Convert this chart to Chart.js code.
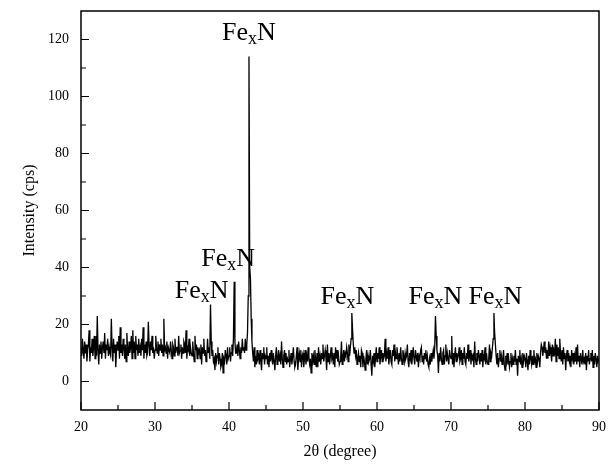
<!DOCTYPE html>
<html>
<head>
<meta charset="utf-8">
<script src="https://cdn.jsdelivr.net/npm/chart.js@4.4.0/dist/chart.umd.min.js"></script>
<style>
  html, body { margin:0; padding:0; background:#fff; }
  #wrap { width:616px; height:466px; }
</style>
</head>
<body>
<div id="wrap"><canvas id="xrd" width="616" height="466"></canvas></div>
<script>
// ================================
// XRD pattern
// ================================
const twoThetaStart = 20;
const twoThetaStep = 0.1;

// intensity (cps), one line per degree (10 points each), 20.0 .. 90.0
const intensity = [
  12, 9, 15, 11, 8, 14, 10, 13, 7, 11,      // 20
  13, 18, 7, 12, 10, 15, 9, 12, 16, 8,      // 21
  16, 9, 23, 11, 6, 13, 10, 14, 8, 12,      // 22
  14, 10, 17, 8, 13, 11, 15, 9, 12, 10,     // 23
  9, 22, 12, 7, 15, 10, 13, 5, 11, 14,      // 24
  11, 16, 8, 19, 10, 13, 9, 15, 12, 8,      // 25
  13, 7, 17, 11, 9, 14, 10, 12, 16, 8,      // 26
  18, 10, 14, 8, 16, 11, 13, 9, 15, 10,     // 27
  12, 9, 15, 11, 19, 8, 13, 10, 14, 9,      // 28
  10, 21, 13, 9, 14, 11, 16, 10, 12, 8,     // 29
  11, 16, 12, 10, 14, 9, 13, 11, 15, 10,    // 30
  13, 9, 22, 11, 12, 10, 14, 8, 12, 11,     // 31
  10, 14, 11, 8, 13, 12, 9, 15, 10, 12,     // 32
  12, 9, 16, 10, 11, 13, 8, 12, 10, 14,     // 33
  13, 10, 18, 8, 12, 11, 15, 9, 12, 10,     // 34
  9, 14, 10, 7, 16, 11, 13, 8, 12, 10,      // 35
  11, 8, 13, 6, 12, 10, 15, 9, 11, 7,       // 36
  9, 15, 10, 12, 8, 27, 14, 9, 11, 7,       // 37
  8, 4, 10, 7, 9, 12, 6, 10, 8, 5,          // 38
  6, 10, 3, 8, 7, 11, 9, 6, 12, 8,          // 39
  9, 12, 7, 10, 13, 9, 15, 35, 14, 10,      // 40
  10, 13, 9, 14, 11, 8, 12, 10, 15, 11,     // 41
  12, 10, 15, 11, 13, 17, 30, 114, 40, 36,  // 42
  22, 14, 10, 7, 12, 5, 9, 6, 11, 8,        // 43
  9, 6, 11, 7, 4, 10, 8, 12, 6, 9,          // 44
  8, 12, 6, 9, 5, 10, 7, 11, 8, 6,          // 45
  10, 7, 4, 9, 12, 6, 8, 11, 7, 9,          // 46
  6, 14, 8, 5, 9, 11, 7, 10, 6, 8,          // 47
  7, 11, 5, 8, 10, 6, 9, 12, 7, 5,          // 48
  6, 9, 12, 4, 8, 10, 7, 11, 5, 9,          // 49
  10, 5, 8, 11, 6, 9, 7, 12, 8, 6,          // 50
  8, 3, 10, 7, 9, 6, 11, 8, 5, 10,          // 51
  5, 12, 7, 9, 6, 10, 8, 13, 7, 9,          // 52
  11, 8, 4, 13, 7, 10, 6, 9, 12, 8,         // 53
  9, 6, 10, 5, 12, 8, 11, 7, 9, 6,          // 54
  7, 9, 14, 6, 8, 11, 7, 10, 9, 12,         // 55
  10, 7, 13, 9, 12, 15, 24, 18, 13, 10,     // 56
  12, 9, 11, 6, 8, 10, 7, 9, 5, 11,         // 57
  10, 5, 9, 7, 4, 8, 11, 6, 9, 7,           // 58
  8, 11, 6, 2, 9, 7, 10, 5, 8, 12,          // 59
  7, 10, 8, 12, 6, 9, 11, 7, 10, 8,         // 60
  9, 15, 7, 10, 8, 12, 6, 9, 11, 7,         // 61
  6, 11, 9, 13, 7, 10, 8, 12, 9, 6,         // 62
  10, 7, 12, 8, 6, 11, 9, 7, 10, 8,         // 63
  9, 13, 7, 5, 10, 8, 11, 6, 9, 12,         // 64
  8, 6, 11, 9, 7, 10, 5, 9, 8, 11,          // 65
  12, 7, 9, 6, 10, 8, 11, 7, 9, 6,          // 66
  5, 8, 6, 10, 7, 9, 11, 8, 12, 23,         // 67
  16, 11, 9, 3, 10, 7, 12, 8, 6, 10,        // 68
  11, 6, 9, 13, 7, 10, 8, 6, 11, 9,         // 69
  8, 16, 6, 10, 5, 9, 12, 7, 10, 8,         // 70
  9, 12, 7, 8, 11, 6, 10, 8, 12, 7,         // 71
  6, 10, 8, 13, 7, 9, 11, 6, 10, 8,         // 72
  9, 5, 14, 8, 6, 10, 7, 11, 9, 6,          // 73
  10, 7, 11, 5, 9, 8, 12, 6, 10, 7,         // 74
  6, 8, 13, 7, 10, 9, 12, 15, 24, 17,       // 75
  13, 9, 6, 10, 5, 8, 11, 7, 9, 6,          // 76
  8, 11, 6, 4, 9, 7, 10, 6, 8, 5,           // 77
  7, 10, 5, 8, 6, 9, 7, 11, 6, 8,           // 78
  2, 9, 7, 11, 6, 8, 5, 10, 7, 9,           // 79
  8, 5, 10, 7, 4, 9, 6, 11, 8, 6,           // 80
  9, 6, 11, 7, 8, 5, 10, 7, 9, 8,           // 81
  5, 10, 13, 12, 9, 11, 14, 10, 12, 8,      // 82
  11, 8, 14, 9, 12, 10, 7, 13, 9, 11,       // 83
  10, 15, 7, 13, 9, 12, 8, 15, 10, 7,       // 84
  11, 6, 12, 8, 10, 4, 9, 11, 7, 10,        // 85
  7, 9, 5, 11, 8, 10, 6, 9, 7, 12,          // 86
  6, 13, 7, 9, 5, 10, 8, 6, 11, 7,          // 87
  8, 6, 10, 4, 9, 7, 11, 6, 8, 10,          // 88
  7, 11, 5, 9, 6, 10, 8, 5, 9, 7,           // 89
  8                                         // 90
];

// axis ticks
const xTicks = [20, 30, 40, 50, 60, 70, 80, 90];
const xMinorTicks = [25, 35, 45, 55, 65, 75, 85];
const yTicks = [0, 20, 40, 60, 80, 100, 120];
const yMinorTicks = [10, 30, 50, 70, 90, 110];

// peak annotations (2θ of text centre, intensity at text baseline)
const peakLabelX = [42.7, 39.9, 36.3, 56.0, 67.9, 76.0];
const peakLabelY = [120, 40.5, 29.2, 27.1, 27.1, 27.1];

const SERIF = '"Liberation Serif", "Times New Roman", serif';

const points = intensity.map((v, i) => ({ x: twoThetaStart + i * twoThetaStep, y: v }));

// ========================================================
// Frame, inward ticks and FexN labels
// ========================================================
const framePlugin = {
  id: "frame",
  afterDraw(chart) {
    const { ctx, chartArea: a, scales } = chart;
    const sx = scales.x, sy = scales.y;
    ctx.save();
    ctx.strokeStyle = "#000";
    ctx.lineWidth = 1.5;
    ctx.strokeRect(a.left, a.top, a.right - a.left, a.bottom - a.top);

    ctx.lineWidth = 1.2;
    ctx.beginPath();
    xTicks.forEach(t => { const p = sx.getPixelForValue(t); ctx.moveTo(p, a.bottom); ctx.lineTo(p, a.bottom - 8); });
    xMinorTicks.forEach(t => { const p = sx.getPixelForValue(t); ctx.moveTo(p, a.bottom); ctx.lineTo(p, a.bottom - 5); });
    yTicks.forEach(t => { const p = sy.getPixelForValue(t); ctx.moveTo(a.left, p); ctx.lineTo(a.left + 8, p); });
    yMinorTicks.forEach(t => { const p = sy.getPixelForValue(t); ctx.moveTo(a.left, p); ctx.lineTo(a.left + 5, p); });
    ctx.stroke();

    // FexN labels
    ctx.fillStyle = "#000";
    ctx.textBaseline = "alphabetic";
    ctx.textAlign = "left";
    const big = "26px " + SERIF, small = "18px " + SERIF;
    peakLabelX.forEach((lx, i) => {
      ctx.font = big;
      const wFe = ctx.measureText("Fe").width;
      const wN = ctx.measureText("N").width;
      ctx.font = small;
      const wx = ctx.measureText("x").width;
      const cx = sx.getPixelForValue(lx);
      const by = sy.getPixelForValue(peakLabelY[i]);
      let px = cx - (wFe + wx + wN) / 2;
      ctx.font = big; ctx.fillText("Fe", px, by); px += wFe;
      ctx.font = small; ctx.fillText("x", px, by + 4); px += wx;
      ctx.font = big; ctx.fillText("N", px, by);
    });
    ctx.restore();
  }
};

new Chart(document.getElementById("xrd"), {
  type: "line",
  data: {
    datasets: [{
      data: points,
      borderColor: "#000",
      borderWidth: 1.3,
      pointRadius: 0,
      tension: 0,
      fill: false
    }]
  },
  options: {
    responsive: false,
    animation: false,
    layout: { padding: { top: 11, right: 17, left: 0, bottom: 0 } },
    plugins: { legend: { display: false }, tooltip: { enabled: false } },
    scales: {
      x: {
        type: "linear", min: 20, max: 90,
        afterBuildTicks: s => { s.ticks = xTicks.map(v => ({ value: v })); },
        afterFit: s => { s.height = 56; s.paddingLeft = 0; s.paddingRight = 0; },
        grid: { display: false, drawTicks: false },
        border: { display: false },
        ticks: { color: "#000", padding: 9, font: { family: SERIF, size: 14 } },
        title: { display: true, text: "2θ (degree)", color: "#000", padding: { top: 4, bottom: 5 }, font: { family: SERIF, size: 16 } }
      },
      y: {
        type: "linear", min: -10, max: 130,
        afterBuildTicks: s => { s.ticks = yTicks.map(v => ({ value: v })); },
        afterFit: s => { s.width = 81; s.paddingTop = 0; s.paddingBottom = 0; },
        grid: { display: false, drawTicks: false },
        border: { display: false },
        ticks: { color: "#000", padding: 12, font: { family: SERIF, size: 14 } },
        title: { display: true, text: "Intensity (cps)", color: "#000", padding: { top: 20, bottom: 0 }, font: { family: SERIF, size: 16 } }
      }
    }
  },
  plugins: [framePlugin]
});
</script>
</body>
</html>
